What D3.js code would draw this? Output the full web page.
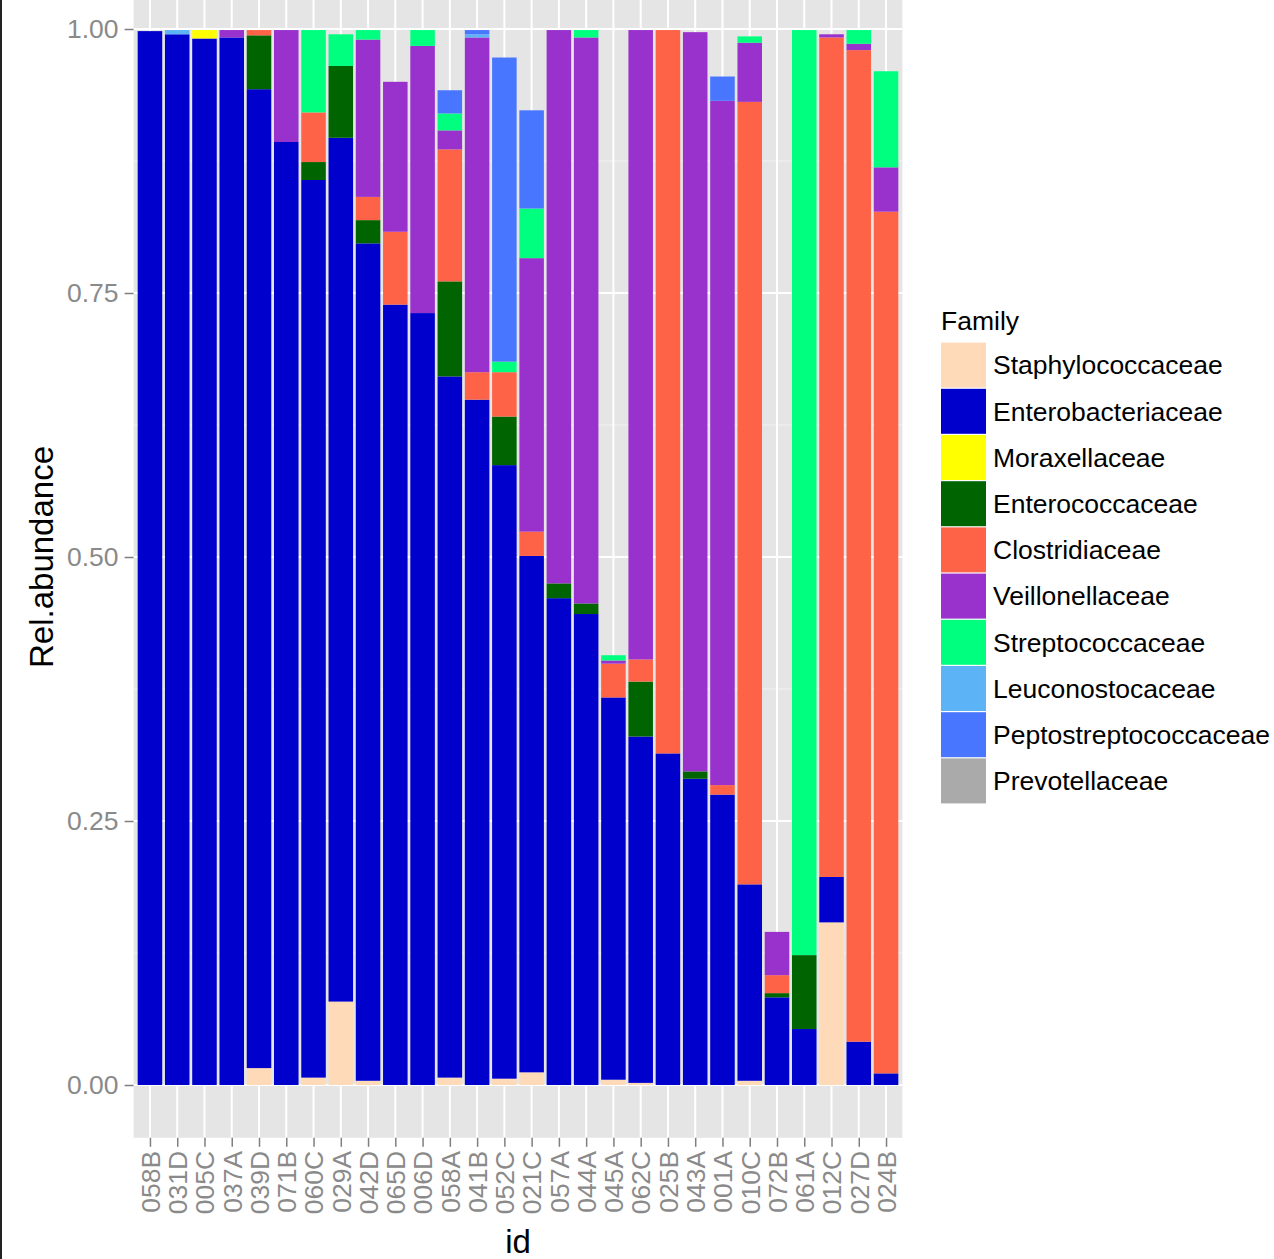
<!DOCTYPE html>
<html>
<head>
<meta charset="utf-8">
<script src="https://cdn.jsdelivr.net/npm/d3@7"></script>
<style>
  html, body { margin: 0; padding: 0; background: #ffffff; }
  svg { display: block; }
  text { font-family: "Liberation Sans", Arial, sans-serif; }
</style>
</head>
<body>
<script>
// ---- data ----
const ids = ["058B","031D","005C","037A","039D","071B","060C","029A","042D","065D","006D","058A","041B","052C",
             "021C","057A","044A","045A","062C","025B","043A","001A","010C","072B","061A","012C","027D","024B"];
const families = ["Staphylococcaceae","Enterobacteriaceae","Moraxellaceae","Enterococcaceae","Clostridiaceae",
                  "Veillonellaceae","Streptococcaceae","Leuconostocaceae","Peptostreptococcaceae","Prevotellaceae"];
const staphylococcaceae    = [0,0,0,0,0.016,0,0.007,0.079,0.004,0,0,0.007,0,0.006,0.012,0,0,0.005,0.002,0,0,0,0.004,0,0,0.154,0,0];
const enterobacteriaceae   = [0.998,0.995,0.991,0.992,0.927,0.893,0.850,0.818,0.793,0.739,0.731,0.664,0.649,0.581,0.489,0.461,0.446,0.362,0.328,0.314,0.290,0.275,0.186,0.083,0.053,0.043,0.041,0.011];
const moraxellaceae        = [0,0,0.008,0,0,0,0,0,0,0,0,0,0,0,0,0,0,0,0,0,0,0,0,0,0,0,0,0];
const enterococcaceae      = [0,0,0,0,0.051,0,0.017,0.068,0.022,0,0,0.090,0,0.046,0,0.014,0.010,0,0.052,0,0.007,0,0,0.004,0.070,0,0,0];
const clostridiaceae       = [0,0,0,0,0.005,0,0.047,0,0.022,0.069,0,0.125,0.026,0.042,0.023,0,0,0.032,0.021,0.685,0,0.009,0.741,0.017,0,0.795,0.939,0.816];
const veillonellaceae      = [0,0,0,0.007,0,0.106,0,0,0.149,0.142,0.253,0.018,0.317,0,0.259,0.524,0.536,0.003,0.596,0,0.700,0.648,0.056,0.041,0,0.003,0.006,0.042];
const streptococcaceae     = [0,0,0,0,0,0,0.078,0.030,0.009,0,0.015,0.016,0,0.010,0.047,0,0.007,0.005,0,0,0,0,0.006,0,0.876,0,0.013,0.091];
const leuconostocaceae     = [0,0.004,0,0,0,0,0,0,0,0,0,0,0.003,0,0,0,0,0,0,0,0,0,0,0,0,0,0,0];
const peptostreptococcaceae= [0,0,0,0,0,0,0,0,0,0,0,0.022,0.004,0.288,0.093,0,0,0,0,0,0,0.023,0,0,0,0,0,0];
const prevotellaceae       = [0,0,0,0,0,0,0,0,0,0,0,0,0,0,0,0,0,0,0,0,0,0,0,0,0,0,0,0];
const yTicks = [0, 0.25, 0.5, 0.75, 1.0];
const yTickLabels = ["0.00","0.25","0.50","0.75","1.00"];
const colors = ["#FFDAB9","#0000CD","#FFFF00","#006400","#FF6347","#9932CC","#00FF7F","#5CB3F5","#4876FF","#AAAAAA"];

const seriesValues = [staphylococcaceae, enterobacteriaceae, moraxellaceae, enterococcaceae, clostridiaceae,
                      veillonellaceae, streptococcaceae, leuconostocaceae, peptostreptococcaceae, prevotellaceae];
const rows = ids.map((id, i) => {
  const r = { id };
  families.forEach((f, k) => { r[f] = seriesValues[k][i]; });
  return r;
});

// ---- layout ----
const W = 1274, H = 1259;
const pL = 133.6, pR = 902.4, pT = -23.8, pB = 1137.8;
const svg = d3.select("body").append("svg").attr("width", W).attr("height", H);
svg.append("rect").attr("width", W).attr("height", H).attr("fill", "#ffffff");

const x = d3.scalePoint().domain(ids).range([pL, pR]).padding(0.6);
const step = x.step();
const barW = step * 0.9;
const y = d3.scaleLinear().domain([-0.05, 1.05]).range([pB, pT]);

// panel
svg.append("rect").attr("x", pL).attr("y", pT).attr("width", pR - pL).attr("height", pB - pT).attr("fill", "#E5E5E5");
// minor grid
const minor = [0.125, 0.375, 0.625, 0.875];
svg.append("g").selectAll("line").data(minor).join("line")
  .attr("x1", pL).attr("x2", pR).attr("y1", d => y(d)).attr("y2", d => y(d))
  .attr("stroke", "#F2F2F2").attr("stroke-width", 1);
// major grid
svg.append("g").selectAll("line").data(yTicks).join("line")
  .attr("x1", pL).attr("x2", pR).attr("y1", d => y(d)).attr("y2", d => y(d))
  .attr("stroke", "#ffffff").attr("stroke-width", 2);
svg.append("g").selectAll("line").data(ids).join("line")
  .attr("x1", d => x(d)).attr("x2", d => x(d)).attr("y1", pT).attr("y2", pB)
  .attr("stroke", "#ffffff").attr("stroke-width", 2);

// bars
const stack = d3.stack().keys(families).order(d3.stackOrderNone).offset(d3.stackOffsetNone);
const stacked = stack(rows);
const gBars = svg.append("g");
stacked.forEach((layer, k) => {
  gBars.append("g").attr("fill", colors[k]).selectAll("rect")
    .data(layer.filter(d => d[1] - d[0] > 0))
    .join("rect")
    .attr("x", d => x(d.data.id) - barW / 2)
    .attr("width", barW)
    .attr("y", d => y(d[1]))
    .attr("height", d => y(d[0]) - y(d[1]));
});

// y axis
const yAxis = d3.axisLeft(y).tickValues(yTicks).tickFormat((d, i) => yTickLabels[i]).tickSize(9).tickPadding(6);
const gy = svg.append("g").attr("transform", `translate(${pL},0)`).call(yAxis);
gy.select(".domain").remove();
gy.selectAll(".tick line").attr("stroke", "#7F7F7F").attr("stroke-width", 1.5);
gy.selectAll(".tick text").attr("fill", "#8A8A8A").style("font-size", "26.5px")
  .style("font-family", "'Liberation Sans', Arial, sans-serif");

// x axis
const xAxis = d3.axisBottom(x).tickSize(9).tickPadding(4);
const gx = svg.append("g").attr("transform", `translate(0,${pB})`).call(xAxis);
gx.select(".domain").remove();
gx.selectAll(".tick line").attr("stroke", "#7F7F7F").attr("stroke-width", 1.5);
gx.selectAll(".tick text").attr("fill", "#8A8A8A").style("font-size", "26.5px")
  .style("font-family", "'Liberation Sans', Arial, sans-serif")
  .attr("transform", "rotate(-90)")
  .attr("x", -13).attr("y", 0).attr("dy", "0.35em")
  .attr("text-anchor", "end");

// axis titles
svg.append("text").attr("x", (pL + pR) / 2).attr("y", 1253).attr("text-anchor", "middle")
  .style("font-size", "33px").attr("fill", "#000").text("id");
svg.append("text").attr("transform", `translate(53,${(pT + pB) / 2}) rotate(-90)`).attr("text-anchor", "middle")
  .style("font-size", "33px").attr("fill", "#000").text("Rel.abundance");

// legend
const lgX = 941, lgY0 = 342, keyH = 46.2, keyW = 45;
svg.append("text").attr("x", lgX).attr("y", 330).style("font-size", "26.5px").attr("fill", "#000").text("Family");
const lg = svg.append("g").selectAll("g").data(families).join("g")
  .attr("transform", (d, i) => `translate(${lgX},${lgY0 + i * keyH})`);
lg.append("rect").attr("x", 0).attr("y", 0.6).attr("width", keyW).attr("height", keyH - 1.2)
  .attr("fill", (d, i) => colors[i]);
lg.append("text").attr("x", 52).attr("y", keyH / 2).attr("dy", "0.35em")
  .style("font-size", "26.5px").attr("fill", "#000").text(d => d);

// left border line
svg.append("rect").attr("x", 0).attr("y", 0).attr("width", 2).attr("height", H).attr("fill", "#222");
</script>
</body>
</html>
